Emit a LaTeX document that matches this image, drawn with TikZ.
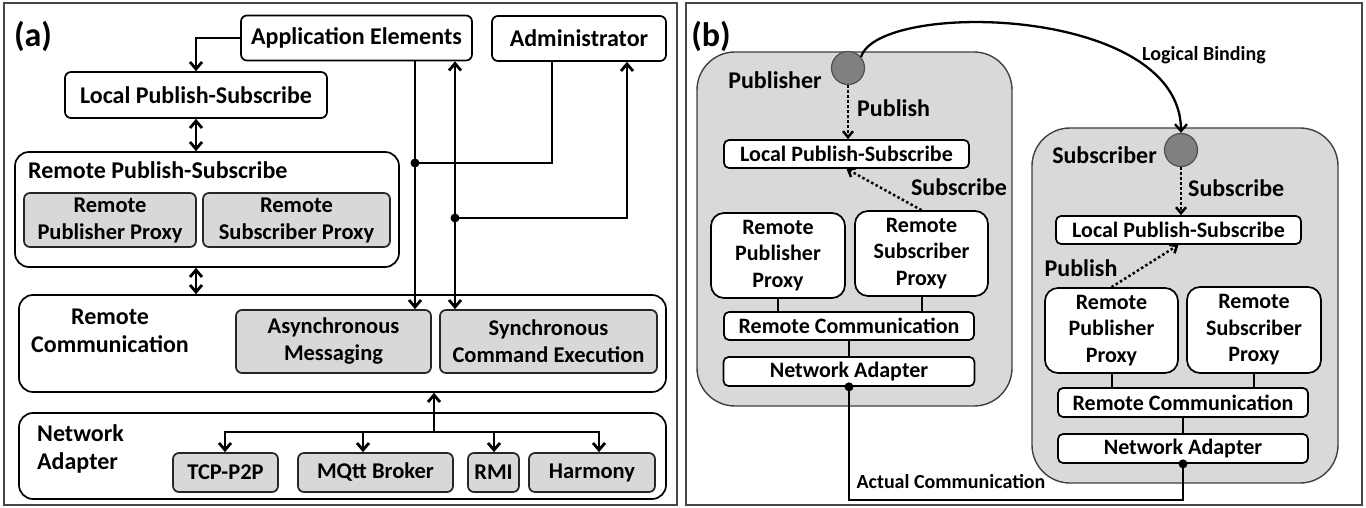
\documentclass[tikz,border=0pt]{standalone}
\usepackage{fontspec}
\setmainfont{Carlito}
\usetikzlibrary{arrows.meta}

\definecolor{contgray}{RGB}{217,217,217}
\definecolor{boxgray}{RGB}{216,216,216}
\definecolor{dotgray}{RGB}{128,128,128}
\definecolor{dotborder}{RGB}{80,80,80}
\definecolor{framegray}{RGB}{70,70,70}

\newcommand\fTag{\fontsize{34}{38}\selectfont\bfseries}
\newcommand\fBig{\fontsize{24}{28}\selectfont\bfseries}
\newcommand\fMid{\fontsize{22.5}{27}\selectfont\bfseries}
\newcommand\fSm{\fontsize{22}{26.5}\selectfont\bfseries}
\newcommand\fLink{\fontsize{20}{24}\selectfont\bfseries}

\begin{document}
\begin{tikzpicture}[x=1pt,y=-1pt,
  frame/.style={draw=framegray, line width=1.3pt},
  box/.style={draw=black, line width=1.7pt, rounded corners=6pt, fill=white,
              inner sep=0pt, align=center},
  graybox/.style={box, draw=black!85, fill=boxgray},
  cont/.style={draw=black, line width=1.7pt, rounded corners=14pt, fill=white},
  bigcont/.style={draw=black!75, line width=1.4pt, rounded corners=38pt, fill=contgray},
  rbox/.style={draw=black, line width=1.7pt, rounded corners=5pt, fill=white,
               inner sep=0pt, align=center, font=\fSm},
  proxy/.style={rbox, rounded corners=13pt},
  lbl/.style={inner sep=0pt, align=center},
  conn/.style={line width=2.8pt, black},
  thin/.style={line width=2pt, black},
  arr/.style={-{Straight Barb[length=7pt,width=12pt]}},
  darr/.style={{Straight Barb[length=7pt,width=12pt]}-{Straight Barb[length=7pt,width=12pt]}},
  dotarr/.style={line width=2.5pt, dash pattern=on 2.5pt off 2.5pt,
                 -{Straight Barb[length=6pt,width=10pt]}},
  dot/.style={circle, fill=dotgray, draw=dotborder, line width=1.2pt,
              minimum size=33pt, inner sep=0pt}
]
\useasboundingbox (0,0) rectangle (1366,508);
\fill[white] (0,0) rectangle (1366,508);

% ---------------- panel (a): layered architecture ----------------
\draw[frame] (4,3) rectangle (677,505);
\node[lbl, font=\fTag] (tagA) at (33,36) {(a)};

\node[box, minimum width=231, minimum height=45, font=\fBig] (appE) at (356.5,38) {Application Elements};
\node[box, minimum width=174, minimum height=45, font=\fBig] (admin) at (579,38.5) {Administrator};
\node[box, minimum width=262, minimum height=46, font=\fBig] (localA) at (196,95) {Local Publish-Subscribe};

\node[cont, minimum width=384, minimum height=115] (rpsA) at (207,209.5) {};
\node[lbl, font=\fBig, anchor=west] (rpsAlbl) at (28,170) {Remote Publish-Subscribe};
\node[graybox, minimum width=172, minimum height=54, font=\fMid] (rppA) at (110,220) {Remote\\Publisher Proxy};
\node[graybox, minimum width=187, minimum height=54, font=\fMid] (rspA) at (296.5,220) {Remote\\Subscriber Proxy};

\node[cont, minimum width=647, minimum height=97] (rcA) at (342.5,343.5) {};
\node[lbl, font=\fBig] (rcAlbl) at (110,331) {Remote\\Communication};
\node[graybox, minimum width=195, minimum height=63, font=\fMid] (asyncA) at (333.5,341.5) {Asynchronous\\Messaging};
\node[graybox, minimum width=217, minimum height=63, font=\fMid] (syncA) at (548.5,341.5) {Synchronous\\Command Execution};

\node[cont, minimum width=647, minimum height=86] (naA) at (342.5,456) {};
\node[lbl, font=\fBig, align=left, anchor=west] (naAlbl) at (37,449) {Network\\Adapter};
\node[graybox, minimum width=105, minimum height=39, font=\fMid] (tcp) at (225.5,472.5) {TCP-P2P};
\node[graybox, minimum width=155, minimum height=39, font=\fMid] (mqtt) at (375.5,472.5) {MQtt Broker};
\node[graybox, minimum width=51, minimum height=39, font=\fMid] (rmi) at (493.5,472.5) {RMI};
\node[graybox, minimum width=126, minimum height=39, font=\fMid] (harmony) at (592,472.5) {Harmony};

% connectors of panel (a)
\draw[conn, arr] (appE.west) -| (localA.north);
\draw[conn, darr] (localA.south) -- (localA.south |- rpsA.north);
\draw[conn, darr] (localA.south |- rpsA.south) -- (localA.south |- rcA.north);

\coordinate (jA) at (415,163);
\coordinate (jB) at (455,218);
\coordinate (adA) at (552,0);
\coordinate (adB) at (627,0);
\draw[conn, arr] (appE.south -| jA) -- (asyncA.north -| jA);
\draw[conn, darr] (syncA.north -| jB) -- (appE.south -| jB);
\draw[conn] (admin.south -| adA) |- (jA);
\draw[conn, arr] (jB) -| (admin.south -| adB);
\fill (jA) circle (4.5);
\fill (jB) circle (4.5);

\coordinate (busM) at (434,432);
\coordinate (busL) at (225,432);
\coordinate (bus2) at (363,432);
\coordinate (bus3) at (494,432);
\coordinate (busR) at (599,432);
\draw[conn, arr] (busM) -- (rcA.south -| busM);
\draw[conn, arr] (busM) -| (tcp.north -| busL);
\draw[conn, arr] (busM) -| (harmony.north -| busR);
\draw[conn, arr] (bus2) -- (mqtt.north -| bus2);
\draw[conn, arr] (bus3) -- (rmi.north -| bus3);

% ---------------- panel (b): publisher / subscriber hosts ----------------
\draw[frame] (686,3) rectangle (1362,505);
\node[lbl, font=\fTag] (tagB) at (711,36) {(b)};

\node[bigcont, minimum width=315, minimum height=354] (pubC) at (854.5,229) {};
\node[bigcont, minimum width=306, minimum height=355] (subC) at (1185,305.5) {};

% publisher side
\node[dot] (pubDot) at (848,68) {};
\node[lbl, font=\fBig] (pubLbl) at (775,80) {Publisher};
\node[lbl, font=\fBig, anchor=west] (pubAct) at (857,108) {Publish};
\node[rbox, minimum width=245, minimum height=28] (localB1) at (846.5,154) {Local Publish-Subscribe};
\node[lbl, font=\fBig] (subAct1) at (959,187) {Subscribe};
\node[proxy, minimum width=134, minimum height=85] (rppB1) at (778,255.5) {Remote\\Publisher\\Proxy};
\node[proxy, minimum width=133, minimum height=85] (rspB1) at (921.5,253.5) {Remote\\Subscriber\\Proxy};
\node[rbox, minimum width=250, minimum height=28] (rcB1) at (849,326) {Remote Communication};
\node[rbox, minimum width=251, minimum height=29] (naB1) at (849,371.5) {Network Adapter};

\draw[dotarr] (pubDot.south) -- (localB1.north -| pubDot.south);
\draw[dotarr] (rspB1.north) -- (localB1.south);
\draw[thin] (rppB1.south) -- (rppB1.south |- rcB1.north);
\draw[thin] (rspB1.south) -- (rspB1.south |- rcB1.north);
\draw[thin] (rcB1.south) -- (naB1.north);

% subscriber side
\node[dot] (subDot) at (1181,150) {};
\node[lbl, font=\fBig] (subLbl) at (1104.5,155) {Subscriber};
\node[lbl, font=\fBig, anchor=west] (subAct2) at (1188,188) {Subscribe};
\node[rbox, minimum width=245, minimum height=28] (localB2) at (1178.5,230) {Local Publish-Subscribe};
\node[lbl, font=\fBig] (pubAct2) at (1081,268) {Publish};
\node[proxy, minimum width=133, minimum height=85] (rppB2) at (1111.5,330.5) {Remote\\Publisher\\Proxy};
\node[proxy, minimum width=134, minimum height=86] (rspB2) at (1254,330) {Remote\\Subscriber\\Proxy};
\node[rbox, minimum width=250, minimum height=29] (rcB2) at (1183,402.5) {Remote Communication};
\node[rbox, minimum width=250, minimum height=29] (naB2) at (1183,448.5) {Network Adapter};

\draw[dotarr] (subDot.south) -- (localB2.north -| subDot.south);
\draw[dotarr] (rppB2.north) -- (localB2.south);
\draw[thin] (rppB2.south) -- (rppB2.south |- rcB2.north);
\draw[thin] (rspB2.south) -- (rspB2.south |- rcB2.north);
\draw[thin] (rcB2.south) -- (naB2.north);

% logical binding between publisher and subscriber
\draw[line width=2.3pt, arr] (pubDot.40) .. controls (878,0) and (1181,5) .. (subDot.north);
\node[lbl, font=\fLink] (bindLbl) at (1204,55) {Logical Binding};

% actual communication path between the network adapters
\coordinate (acMid) at (1000,500);
\draw[conn] (naB1.south) |- (acMid) -| (naB2.south);
\fill (naB1.south) circle (4.5);
\fill (naB2.south) circle (4.5);
\node[lbl, font=\fLink] (acLbl) at (951,482) {Actual Communication};
\end{tikzpicture}
\end{document}
